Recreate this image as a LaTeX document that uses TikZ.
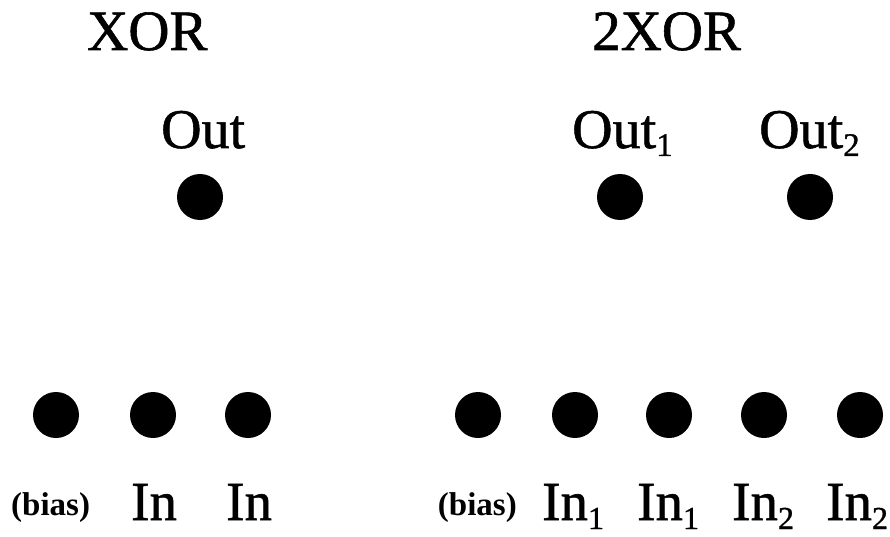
\documentclass[tikz,border=0pt]{standalone}
\usepackage{fontspec}
\setmainfont{Liberation Serif}
\newfontfamily\scanfont[FakeBold=1]{Liberation Serif}
\newcommand{\titlefont}{\scanfont\fontsize{57}{62}\selectfont}
\newcommand{\outfont}{\scanfont\fontsize{56}{60}\selectfont}
\newcommand{\infont}{\scanfont\fontsize{55}{60}\selectfont}
\newcommand{\smallfont}{\fontsize{33}{36}\selectfont\bfseries}
\newcommand{\osub}[1]{\raisebox{-8pt}{\fontsize{33}{36}\selectfont #1}}
\newcommand{\isub}[1]{\raisebox{-9pt}{\fontsize{32}{36}\selectfont #1}}
\begin{document}
\begin{tikzpicture}[x=1pt,y=-1pt,
  unit/.style={circle,fill=black,inner sep=0pt,minimum size=46pt},
  ttl/.style={inner sep=0pt,font=\titlefont,anchor=base west},
  outlbl/.style={inner sep=0pt,font=\outfont,anchor=base west},
  inlbl/.style={inner sep=0pt,font=\infont,anchor=base west},
  biaslbl/.style={inner sep=0pt,font=\smallfont,anchor=base}]
\useasboundingbox (0,0) rectangle (890,537);
% titles
\node[ttl] (t1) at (87,50) {XOR};
\node[ttl] (t2) at (592,50) {2XOR};
% outputs
\node[unit] (o) at (200,197) {};
\node[unit] (o1) at (620,197) {};
\node[unit] (o2) at (810,197) {};
\node[outlbl] (lo) at (161,148) {Out};
\node[outlbl] (lo1) at (572,148) {Out\osub{1}};
\node[outlbl] (lo2) at (759,148) {Out\osub{2}};
% inputs left
\node[unit] (b) at (56,415) {};
\node[unit] (i1) at (153,415) {};
\node[unit] (i2) at (248,415) {};
\node[biaslbl,anchor=base west] (lb) at (11,515) {(bias)};
\node[inlbl] (li1) at (131,520) {In};
\node[inlbl] (li2) at (226,520) {In};
% inputs right
\node[unit] (rb) at (478,415) {};
\node[unit] (r1) at (575,415) {};
\node[unit] (r2) at (669,415) {};
\node[unit] (r3) at (764,415) {};
\node[unit] (r4) at (860,415) {};
\node[biaslbl,anchor=base east] (lrb) at (517,515) {(bias)};
\node[inlbl] (lr1) at (542,520) {In\isub{1}};
\node[inlbl] (lr2) at (637,520) {In\isub{1}};
\node[inlbl] (lr3) at (732,520) {In\isub{2}};
\node[inlbl] (lr4) at (826,520) {In\isub{2}};
\end{tikzpicture}
\end{document}
